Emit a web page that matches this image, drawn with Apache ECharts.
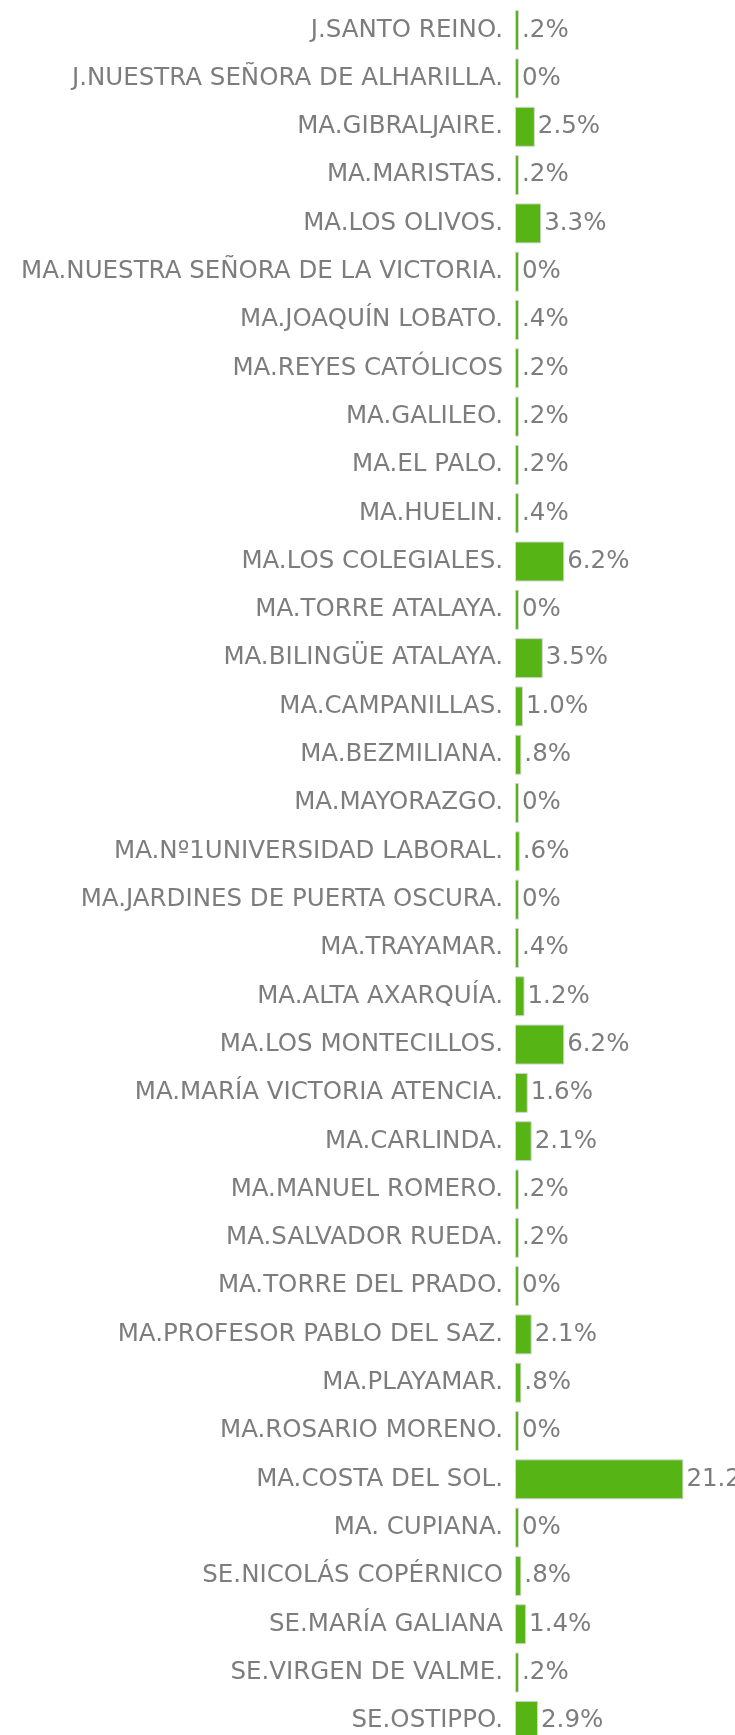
<!DOCTYPE html>
<html>
<head>
<meta charset="utf-8">
<script src="https://cdn.jsdelivr.net/npm/echarts@6/dist/echarts.min.js"></script>
<style>
  html, body { margin: 0; padding: 0; background: #fff; overflow: hidden; }
  #chart { width: 735px; height: 1735px; }
</style>
</head>
<body>
<div id="chart"></div>
<script>
// centros (de arriba a abajo)
const centros = [
  'J.SANTO REINO.', 'J.NUESTRA SEÑORA DE ALHARILLA.', 'MA.GIBRALJAIRE.', 'MA.MARISTAS.',
  'MA.LOS OLIVOS.', 'MA.NUESTRA SEÑORA DE LA VICTORIA.', 'MA.JOAQUÍN LOBATO.', 'MA.REYES CATÓLICOS',
  'MA.GALILEO.', 'MA.EL PALO.', 'MA.HUELIN.', 'MA.LOS COLEGIALES.', 'MA.TORRE ATALAYA.',
  'MA.BILINGÜE ATALAYA.', 'MA.CAMPANILLAS.', 'MA.BEZMILIANA.', 'MA.MAYORAZGO.',
  'MA.Nº1UNIVERSIDAD LABORAL.', 'MA.JARDINES DE PUERTA OSCURA.', 'MA.TRAYAMAR.',
  'MA.ALTA AXARQUÍA.', 'MA.LOS MONTECILLOS.', 'MA.MARÍA VICTORIA ATENCIA.', 'MA.CARLINDA.',
  'MA.MANUEL ROMERO.', 'MA.SALVADOR RUEDA.', 'MA.TORRE DEL PRADO.', 'MA.PROFESOR PABLO DEL SAZ.',
  'MA.PLAYAMAR.', 'MA.ROSARIO MORENO.', 'MA.COSTA DEL SOL.', 'MA. CUPIANA.',
  'SE.NICOLÁS COPÉRNICO', 'SE.MARÍA GALIANA', 'SE.VIRGEN DE VALME.', 'SE.OSTIPPO.'
];

// porcentajes
const porcentajes = [
  0.2, 0, 2.5, 0.2, 3.3, 0, 0.4, 0.2, 0.2, 0.2, 0.4, 6.2, 0, 3.5, 1.0, 0.8, 0,
  0.6, 0, 0.4, 1.2, 6.2, 1.6, 2.1, 0.2, 0.2, 0, 2.1, 0.8, 0, 21.2, 0, 0.8, 1.4, 0.2, 2.9
];

// formato tipo ".2%", "0%", "1.0%"
function fmtPct(v) {
  if (v === 0) return '0%';
  return v.toFixed(1).replace(/^0/, '') + '%';
}

const chart = echarts.init(document.getElementById('chart'));

const option = {
  animation: false,
  grid: {
    left: 515,
    right: 0,
    top: 6,
    height: 1739,
    outerBoundsMode: 'none'
  },
  xAxis: {
    type: 'value',
    min: 0,
    max: 27.7,
    show: false
  },
  yAxis: {
    type: 'category',
    data: centros,
    inverse: true,
    axisLine: { show: false },
    axisTick: { show: false },
    splitLine: { show: false },
    axisLabel: {
      margin: 12,
      color: '#7d7d7d',
      fontSize: 24.5,
      fontFamily: 'DejaVu Sans'
    }
  },
  series: [{
    type: 'bar',
    data: porcentajes,
    barWidth: 40,
    barMinHeight: 4,
    itemStyle: {
      color: '#56b414',
      borderColor: '#d4d4d4',
      borderWidth: 1
    },
    label: {
      show: true,
      position: 'right',
      distance: 3,
      color: '#7d7d7d',
      fontSize: 24.5,
      fontFamily: 'DejaVu Sans',
      formatter: p => fmtPct(p.value)
    }
  }]
};

chart.setOption(option);
</script>
</body>
</html>
